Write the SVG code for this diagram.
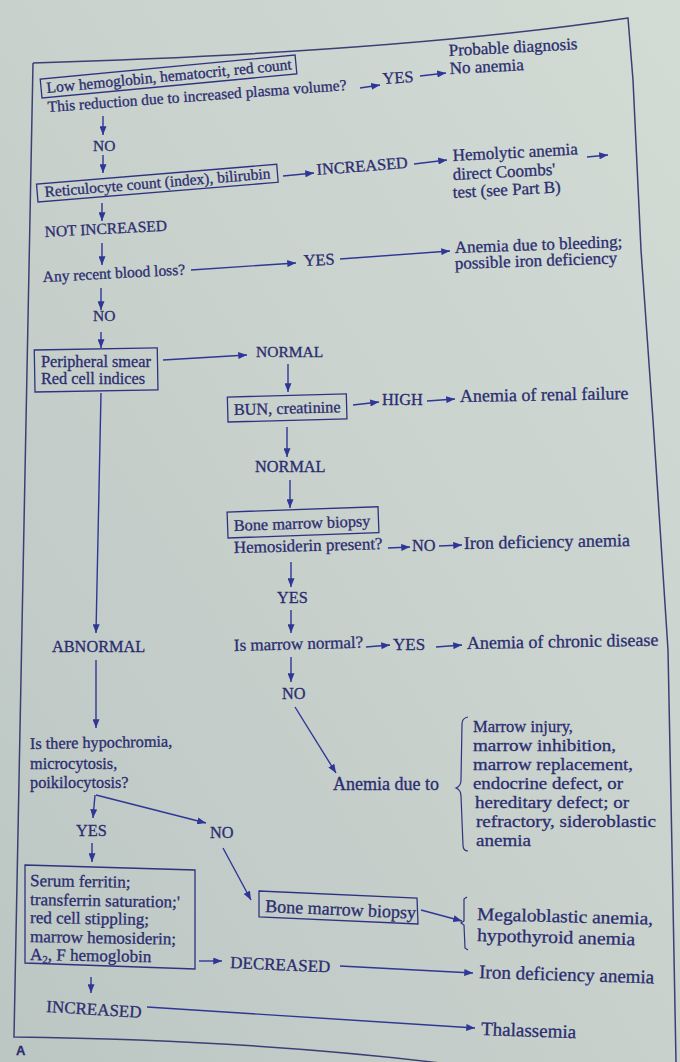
<svg xmlns="http://www.w3.org/2000/svg" width="680" height="1062" viewBox="0 0 680 1062">
<defs>
<linearGradient id="bg" x1="1" y1="0" x2="0" y2="1">
<stop offset="0" stop-color="#d3dbd5"/>
<stop offset="0.5" stop-color="#c8d1cc"/>
<stop offset="1" stop-color="#bcc6c3"/>
</linearGradient>
<marker id="ah" viewBox="0 0 10 8" refX="10" refY="4" markerWidth="9" markerHeight="7" markerUnits="userSpaceOnUse" orient="auto">
<path d="M0,0 L10,4 L0,8 z" fill="#2f3796"/>
</marker>
<style>
text{font-family:"Liberation Serif","Times New Roman",serif;fill:#2b2d70;stroke:#2b2d70;stroke-width:0.3}
.s15{font-size:15.5px}.s16{font-size:16.3px}.s17{font-size:17px}.s18{font-size:18px}.s19{font-size:19px}
.box{fill:none;stroke:#2e3380;stroke-width:1.3}
.ln{fill:none;stroke:#2f3796;stroke-width:1.4;marker-end:url(#ah)}
.br{fill:none;stroke:#2e3380;stroke-width:1.2}
.frame{fill:none;stroke:#3b4074;stroke-width:1.5}
.lbl{font-family:"Liberation Sans",Arial,sans-serif;font-weight:bold;font-size:13px}
</style>
</defs>
<rect width="680" height="1062" fill="url(#bg)"/>
<g id="frame">
<path class="frame" d="M33,63 Q400,52 628,18 L633,80 L641,250 L653,420 L668,650 L672,850 L676,1062"/>
<path class="frame" d="M33,63 L14,1037 Q250,1040 440,1063"/>
<text class="lbl" x="16" y="1055">A</text>
</g>
<g id="connectors">
<path class="ln" d="M360,88 L380,85"/>
<path class="ln" d="M420,76 L446,73"/>
<path class="ln" d="M103,116 L103,135"/>
<path class="ln" d="M103,155 L103,173"/>
<path class="ln" d="M283,176 L314,173"/>
<path class="ln" d="M414,164 L447,160"/>
<path class="ln" d="M587,157 L608,155"/>
<path class="ln" d="M102,203 L102,221"/>
<path class="ln" d="M102,243 L102,265"/>
<path class="ln" d="M191,270 L296,263"/>
<path class="ln" d="M340,259 L450,251"/>
<path class="ln" d="M101,288 L101,310"/>
<path class="ln" d="M101,332 L101,348"/>
<path class="ln" d="M163,360 L247,355"/>
<path class="ln" d="M288,364 L288,392"/>
<path class="ln" d="M353,405 L379,402"/>
<path class="ln" d="M427,401 L455,399"/>
<path class="ln" d="M287,427 L287,457"/>
<path class="ln" d="M290,480 L290,508"/>
<path class="ln" d="M388,548 L410,547"/>
<path class="ln" d="M439,546 L462,545"/>
<path class="ln" d="M291,562 L291,587"/>
<path class="ln" d="M291,610 L291,633"/>
<path class="ln" d="M366,647 L390,645"/>
<path class="ln" d="M436,647 L462,645"/>
<path class="ln" d="M291,657 L291,682"/>
<path class="ln" d="M295,707 L336,773"/>
<path class="ln" d="M101,393 L96,633"/>
<path class="ln" d="M96,660 L96,728"/>
<path class="ln" d="M96,795 L206,823"/>
<path class="ln" d="M95,795 L93,818"/>
<path class="ln" d="M92,843 L92,862"/>
<path class="ln" d="M223,848 L251,900"/>
<path class="ln" d="M421,910 L462,921"/>
<path class="ln" d="M199,961 L222,961"/>
<path class="ln" d="M340,966 L473,973"/>
<path class="ln" d="M91,977 L91,993"/>
<path class="ln" d="M147,1007 L475,1028"/>
</g>
<g id="n-low-hb">
<rect class="box" x="42" y="79" width="256" height="19" transform="rotate(-5.4 42 98)"/>
<text class="s15" x="47" y="93" transform="rotate(-5.5 47 93)">Low hemoglobin, hematocrit, red count</text>
</g>
<g id="n-plasma">
<text class="s15" x="48" y="112" transform="rotate(-4.2 48 112)">This reduction due to increased plasma volume?</text>
</g>
<g id="n-yes1"><text class="s16" x="383" y="84" transform="rotate(-4 383 84)">YES</text></g>
<g id="n-no-anemia">
<text class="s17" x="449" y="56" transform="rotate(-3 449 56)">Probable diagnosis</text>
<text class="s17" x="450" y="74" transform="rotate(-3 450 74)">No anemia</text>
</g>
<g id="n-no1"><text class="s15" x="93" y="151">NO</text></g>
<g id="n-retic">
<rect class="box" x="38" y="184" width="241" height="18" transform="rotate(-4.7 38 202)"/>
<text class="s15" x="45" y="197" transform="rotate(-4.7 45 197)">Reticulocyte count (index), bilirubin</text>
</g>
<g id="n-increased1"><text class="s16" x="317" y="175" transform="rotate(-4.5 317 175)">INCREASED</text></g>
<g id="n-hemolytic">
<text class="s17" x="453" y="161" transform="rotate(-3 453 161)">Hemolytic anemia</text>
<text class="s17" x="453" y="180" transform="rotate(-3 453 180)">direct Coombs'</text>
<text class="s17" x="453" y="198" transform="rotate(-3 453 198)">test (see Part B)</text>
</g>
<g id="n-not-increased"><text class="s15" x="45" y="237" transform="rotate(-3 45 237)">NOT INCREASED</text></g>
<g id="n-blood-loss"><text class="s15" x="43" y="282" transform="rotate(-3 43 282)">Any recent blood loss?</text></g>
<g id="n-yes2"><text class="s16" x="304" y="266" transform="rotate(-3 304 266)">YES</text></g>
<g id="n-bleeding">
<text class="s17" x="455" y="253" transform="rotate(-2 455 253)">Anemia due to bleeding;</text>
<text class="s17" x="455" y="269" transform="rotate(-2 455 269)">possible iron deficiency</text>
</g>
<g id="n-no2"><text class="s15" x="93" y="321">NO</text></g>
<g id="n-smear">
<rect class="box" x="35" y="350" width="123" height="42" transform="rotate(-1 35 392)"/>
<text class="s16" x="41" y="367">Peripheral smear</text>
<text class="s16" x="41" y="384">Red cell indices</text>
</g>
<g id="n-normal1"><text class="s15" x="256" y="357">NORMAL</text></g>
<g id="n-bun">
<rect class="box" x="228" y="397" width="119" height="25" transform="rotate(-1.5 228 422)"/>
<text class="s16" x="234" y="415" transform="rotate(-1.5 234 415)">BUN, creatinine</text>
</g>
<g id="n-high"><text class="s16" x="382" y="405">HIGH</text></g>
<g id="n-renal"><text class="s18" x="460" y="402" transform="rotate(-1 460 402)">Anemia of renal failure</text></g>
<g id="n-normal2"><text class="s16" x="255" y="472">NORMAL</text></g>
<g id="n-biopsy1">
<rect class="box" x="228" y="512" width="151" height="26" transform="rotate(-2 228 538)"/>
<text class="s16" x="234" y="531" transform="rotate(-2 234 531)">Bone marrow biopsy</text>
<text class="s17" x="234" y="553" transform="rotate(-1.5 234 553)">Hemosiderin present?</text>
</g>
<g id="n-no3"><text class="s16" x="412" y="551">NO</text></g>
<g id="n-iron1"><text class="s18" x="464" y="549" transform="rotate(-1 464 549)">Iron deficiency anemia</text></g>
<g id="n-yes3"><text class="s16" x="277" y="603">YES</text></g>
<g id="n-marrow-normal"><text class="s17" x="234" y="651" transform="rotate(-1.5 234 651)">Is marrow normal?</text></g>
<g id="n-yes4"><text class="s17" x="393" y="650">YES</text></g>
<g id="n-chronic"><text class="s18" x="467" y="649" transform="rotate(-1 467 649)">Anemia of chronic disease</text></g>
<g id="n-no4"><text class="s16" x="282" y="699">NO</text></g>
<g id="n-due-to">
<text class="s18" x="333" y="790">Anemia due to</text>
<path class="br" d="M468,717 Q462,718 462,724 L461,780 Q461,786 456,788 Q461,790 461,796 L463,845 Q463,851 468,851"/>
<text class="s17" x="473" y="732" textLength="100" lengthAdjust="spacingAndGlyphs">Marrow injury,</text>
<text class="s17" x="473" y="751" textLength="143" lengthAdjust="spacingAndGlyphs">marrow inhibition,</text>
<text class="s17" x="473" y="770" textLength="160" lengthAdjust="spacingAndGlyphs">marrow replacement,</text>
<text class="s17" x="473" y="789" textLength="150" lengthAdjust="spacingAndGlyphs">endocrine defect, or</text>
<text class="s17" x="475" y="808" textLength="154" lengthAdjust="spacingAndGlyphs">hereditary defect; or</text>
<text class="s17" x="476" y="827" textLength="180" lengthAdjust="spacingAndGlyphs">refractory, sideroblastic</text>
<text class="s17" x="476" y="846" textLength="55" lengthAdjust="spacingAndGlyphs">anemia</text>
</g>
<g id="n-abnormal"><text class="s16" x="52" y="652">ABNORMAL</text></g>
<g id="n-hypochromia">
<text class="s16" x="30" y="749" transform="rotate(-1 30 749)">Is there hypochromia,</text>
<text class="s16" x="30" y="769">microcytosis,</text>
<text class="s16" x="30" y="788">poikilocytosis?</text>
</g>
<g id="n-yes5"><text class="s16" x="76" y="836">YES</text></g>
<g id="n-no5"><text class="s16" x="210" y="838">NO</text></g>
<g id="n-ferritin">
<path class="box" d="M25,865 L195,870 L195,969 L25,963 Z"/>
<text class="s17" x="30" y="886" transform="rotate(1 30 886)">Serum ferritin;</text>
<text class="s17" x="30" y="905" transform="rotate(1 30 905)">transferrin saturation;'</text>
<text class="s17" x="30" y="923" transform="rotate(1 30 923)">red cell stippling;</text>
<text class="s17" x="30" y="942" transform="rotate(1 30 942)">marrow hemosiderin;</text>
<text class="s17" x="30" y="960" transform="rotate(1 30 960)">A<tspan font-size="11" dy="3">2</tspan><tspan dy="-3">, F hemoglobin</tspan></text>
</g>
<g id="n-biopsy2">
<path class="box" d="M259,891 L417,898 L418,924 L259,917 Z"/>
<text class="s18" x="265" y="912" transform="rotate(2.5 265 912)">Bone marrow biopsy</text>
</g>
<g id="n-megaloblastic">
<path class="br" d="M467,897 L464,899 L464,921 L461,923 L464,925 L465,948 L468,950"/>
<text class="s18" x="477" y="920" transform="rotate(1.5 477 920)" textLength="176" lengthAdjust="spacingAndGlyphs">Megaloblastic anemia,</text>
<text class="s18" x="477" y="941" transform="rotate(1.5 477 941)" textLength="158" lengthAdjust="spacingAndGlyphs">hypothyroid anemia</text>
</g>
<g id="n-decreased"><text class="s17" x="230" y="968" transform="rotate(2.5 230 968)">DECREASED</text></g>
<g id="n-iron2"><text class="s19" x="479" y="978" transform="rotate(1.8 479 978)">Iron deficiency anemia</text></g>
<g id="n-increased2"><text class="s17" x="46" y="1012" transform="rotate(3.5 46 1012)">INCREASED</text></g>
<g id="n-thalassemia"><text class="s19" x="481" y="1035" transform="rotate(2 481 1035)">Thalassemia</text></g>
</svg>
